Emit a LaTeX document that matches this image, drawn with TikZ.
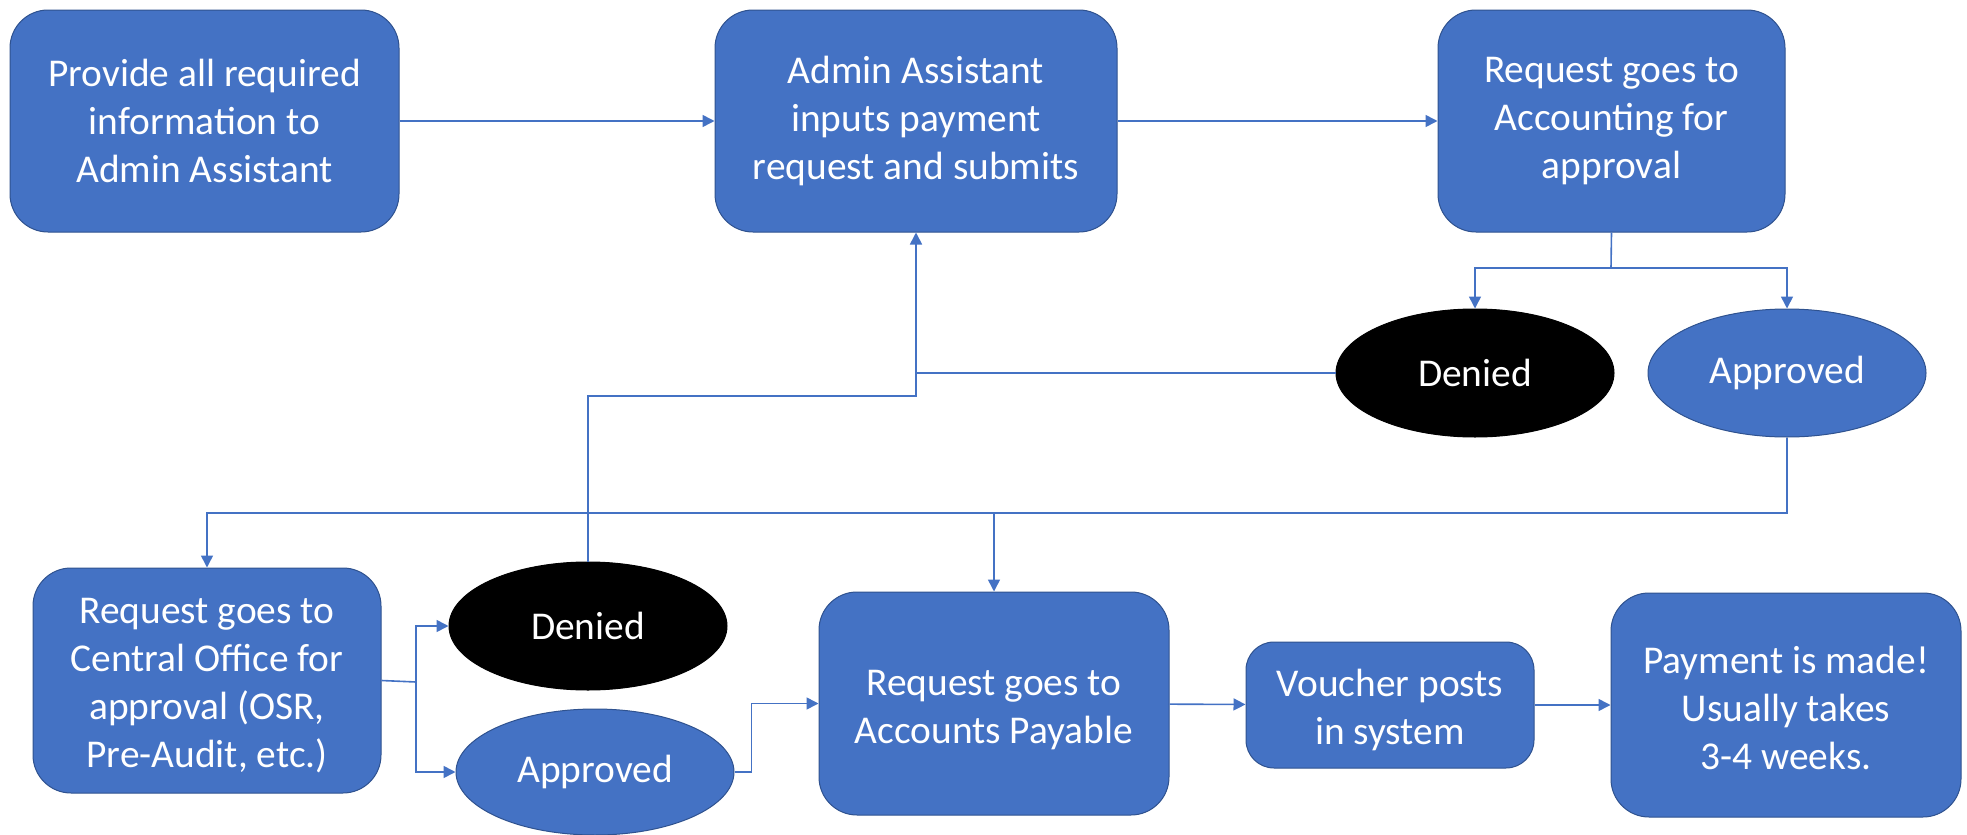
\documentclass[tikz,border=0pt]{standalone}
\usepackage{fontspec}
\setmainfont{Carlito}
\usepackage{tikz}
\usetikzlibrary{arrows.meta,shapes.geometric}
\definecolor{officeblue}{HTML}{4472C4}
\definecolor{officeedge}{HTML}{2F528F}

\tikzset{
  stepbox/.style={draw=officeedge, line width=0.5pt, fill=officeblue, rounded corners=19pt,
    text=white, align=center, font=\fontsize{19.7}{24}\selectfont, inner sep=0pt},
  result/.style={ellipse, draw=officeedge, line width=0.5pt, fill=officeblue, text=white,
    font=\fontsize{19.7}{24}\selectfont, inner sep=0pt, minimum width=139pt, minimum height=64pt},
  denied/.style={result, fill=black, draw=black},
  flow/.style={draw=officeblue, line width=0.8pt},
  arrow/.style={flow, -{Triangle[length=6pt, width=6pt]}}
}

\begin{document}
\begin{tikzpicture}[x=0.5pt, y=-0.5pt]
\useasboundingbox (0,0) rectangle (1967,835);
% top row
\node[stepbox, minimum width=194.5pt, minimum height=111pt] (provide) at (204.5,121) {Provide all required\\information to\\Admin Assistant};
\node[stepbox, minimum width=201pt, minimum height=111pt] (inputs) at (916,121) {Admin Assistant\\inputs payment\\request and submits};
\node[stepbox, minimum width=173.5pt, minimum height=111pt] (accounting) at (1611.5,121) {Request goes to\\Accounting for\\approval};
\node[denied] (denA) at (1475,373) {Denied};
\node[result] (appA) at (1787,373) {Approved};
% bottom row
\node[stepbox, minimum width=174pt, minimum height=112.5pt] (central) at (207,680.5) {\rule{0pt}{18pt}Request goes to\\Central Office for\\approval (OSR,\\Pre-Audit, etc.)};
\node[denied] (denB) at (588,626) {Denied};
\node[result, minimum height=63pt] (appB) at (595,772) {Approved};
\node[stepbox, minimum width=175pt, minimum height=111.5pt] (payable) at (994,703.5) {\rule{0pt}{19pt}Request goes to\\Accounts Payable};
\node[stepbox, minimum width=144pt, minimum height=63pt, rounded corners=14pt] (voucher) at (1390,705) {\rule{0pt}{19pt}Voucher posts\\in system};
\node[stepbox, minimum width=175pt, minimum height=112pt] (payment) at (1786,705) {\rule{0pt}{17pt}Payment is made!\\Usually takes\\3-4 weeks.};

\coordinate (splitA) at (1611,268);
\coordinate (back) at (916,396);
\coordinate (bus) at (207,513);
\coordinate (splitB) at (416,682);

\draw[arrow] (provide) -- (inputs);
\draw[arrow] (inputs) -- (accounting);
\draw[flow] (accounting.south) -- (splitA);
\draw[arrow] (splitA) -| (denA.north);
\draw[arrow] (splitA) -| (appA.north);
\draw[arrow] (denA.west) -| (inputs.south);
\draw[flow] (denB.north) |- (back) -- (back |- denA.west);
\draw[arrow] (appA.south) |- (bus) -- (central.north);
\draw[arrow] (payable.north |- bus) -- (payable.north);
\draw[flow] (central.east) -- (splitB);
\draw[arrow] (splitB) |- (denB.west);
\draw[arrow] (splitB) |- (appB.west);
\draw[arrow] (appB.east) -- ++(17,0) |- (payable.west);
\draw[arrow] (payable) -- (voucher);
\draw[arrow] (voucher) -- (payment);
\end{tikzpicture}
\end{document}
